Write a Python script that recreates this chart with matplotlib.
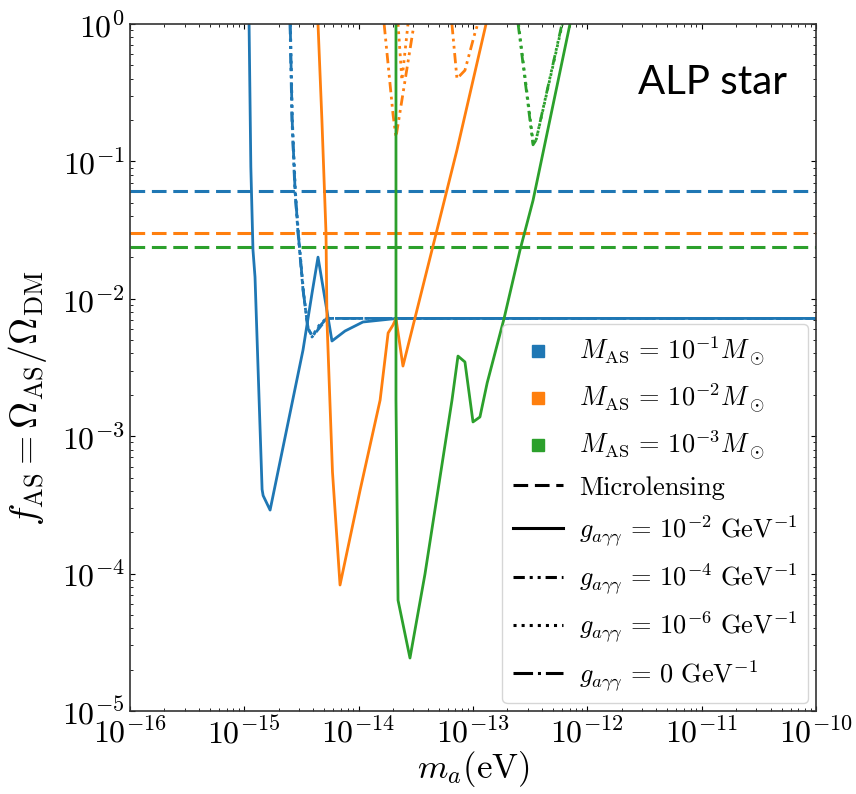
import matplotlib
matplotlib.use("Agg")
import matplotlib.pyplot as plt
from matplotlib.lines import Line2D
from matplotlib.ticker import LogLocator

plt.rcParams.update({
    "font.family": "serif",
    "font.serif": ["cmr10"],
    "mathtext.fontset": "cm",
    "axes.formatter.use_mathtext": True,
    "axes.unicode_minus": False,
})

C_BLUE, C_ORANGE, C_GREEN = "#1f77b4", "#ff7f0e", "#2ca02c"

# Microlensing bounds for each ALP-star mass
micro_limits = {"1e-1": 0.061, "1e-2": 0.030, "1e-3": 0.0238}

# M_AS = 1e-1 Msun
m1_g2_x = [1.10e-15, 1.14e-15, 1.19e-15, 1.24e-15, 1.43e-15, 1.46e-15, 1.68e-15,
           3.26e-15, 3.91e-15, 4.41e-15, 5.84e-15, 7.6e-15, 1.09e-14, 2.16e-14, 1e-10]
m1_g2_y = [1.0, 0.091, 0.0227, 0.0144, 4.1e-4, 3.7e-4, 2.9e-4,
           4.24e-3, 0.011, 0.0201, 4.93e-3, 5.83e-3, 6.78e-3, 7.2e-3, 7.2e-3]
m1_g4_x = [2.51e-15, 2.61e-15, 2.77e-15, 2.95e-15, 3.26e-15, 3.59e-15, 3.91e-15,
           4.58e-15, 5.28e-15, 1e-10]
m1_g4_y = [1.0, 0.2, 0.061, 0.030, 0.0116, 6.2e-3, 5.27e-3, 6.2e-3, 7.2e-3, 7.2e-3]
m1_g6_x = [2.53e-15, 2.63e-15, 2.80e-15, 2.98e-15, 3.30e-15, 3.62e-15, 3.95e-15,
           4.50e-15, 5.20e-15, 1e-10]
m1_g6_y = [1.0, 0.2, 0.060, 0.029, 0.011, 6.0e-3, 5.4e-3, 6.4e-3, 7.2e-3, 7.2e-3]
m1_g0_x = [2.52e-15, 2.62e-15, 2.78e-15, 2.96e-15, 3.28e-15, 3.60e-15, 3.93e-15,
           4.55e-15, 5.25e-15, 1e-10]
m1_g0_y = [1.0, 0.2, 0.061, 0.030, 0.0113, 6.1e-3, 5.3e-3, 6.3e-3, 7.2e-3, 7.2e-3]

# M_AS = 1e-2 Msun
m2_g2_x = [4.41e-15, 4.77e-15, 5.18e-15, 5.28e-15, 5.9e-15, 6.87e-15, 1.03e-14,
           1.54e-14, 1.81e-14, 2.0e-14, 2.12e-14, 2.44e-14, 4.38e-14, 7.24e-14, 1.3e-13]
m2_g2_y = [1.0, 0.2, 0.030, 7.0e-3, 5.5e-4, 8.26e-5, 4.06e-4,
           1.83e-3, 5.64e-3, 6.45e-3, 7.2e-3, 3.24e-3, 0.0227, 0.121, 1.0]
m2_g4_x = [1.67e-14, 2.0e-14, 2.12e-14, 2.39e-14, 2.99e-14]
m2_g4_y = [1.0, 0.218, 0.15, 0.28, 0.9]
m2_g6_x = [2.21e-14, 2.39e-14, 2.7e-14]
m2_g6_y = [1.0, 0.39, 1.0]
m2_g0_x = [6.54e-14, 7.24e-14, 8.5e-14, 1.04e-13, 1.1e-13]
m2_g0_y = [1.0, 0.40, 0.46, 0.86, 1.0]

# M_AS = 1e-3 Msun
m3_g2_x = [2.12e-14, 2.12e-14, 2.21e-14, 2.81e-14, 3.8e-14, 6.55e-14, 7.39e-14,
           8.5e-14, 1.0e-13, 1.15e-13, 1.33e-13, 1.87e-13, 2.58e-13, 3.35e-13, 7.05e-13]
m3_g2_y = [1.0, 1.83e-3, 6.4e-5, 2.43e-5, 9.9e-5, 1.83e-3, 3.83e-3,
           3.47e-3, 1.27e-3, 1.38e-3, 2.44e-3, 7.2e-3, 0.0227, 0.052, 1.0]
m3_g4_x = [2.48e-13, 3.35e-13, 3.56e-13, 6.0e-13]
m3_g4_y = [1.0, 0.132, 0.143, 1.0]
m3_g6_x = [2.50e-13, 3.37e-13, 3.58e-13, 6.05e-13]
m3_g6_y = [1.0, 0.134, 0.145, 1.0]

ls_g4 = (0, (3.7, 1.6, 1.0, 1.6, 1.0, 1.6))
ls_g6 = (0, (1.0, 1.65))
ls_g0 = (0, (6.4, 1.6, 1.0, 1.6))
dash_micro = (4.8, 2.2)

fig = plt.figure(figsize=(8.56, 7.94), dpi=100)
ax = fig.add_axes([130 / 856, 1 - 711 / 794, 686 / 856, 687 / 794])

lw = 2.0
for key, c in zip(["1e-1", "1e-2", "1e-3"], [C_BLUE, C_ORANGE, C_GREEN]):
    ax.axhline(micro_limits[key], color=c, ls="--", lw=2.2, dashes=dash_micro)

ax.plot(m1_g2_x, m1_g2_y, color=C_BLUE, lw=lw)
ax.plot(m1_g4_x, m1_g4_y, color=C_BLUE, lw=lw, ls=ls_g4)
ax.plot(m1_g6_x, m1_g6_y, color=C_BLUE, lw=lw, ls=ls_g6)
ax.plot(m1_g0_x, m1_g0_y, color=C_BLUE, lw=lw, ls=ls_g0)

ax.plot(m2_g2_x, m2_g2_y, color=C_ORANGE, lw=lw)
ax.plot(m2_g4_x, m2_g4_y, color=C_ORANGE, lw=lw, ls=ls_g4)
ax.plot(m2_g6_x, m2_g6_y, color=C_ORANGE, lw=lw, ls=ls_g6)
ax.plot(m2_g0_x, m2_g0_y, color=C_ORANGE, lw=lw, ls=ls_g4)

ax.plot(m3_g2_x, m3_g2_y, color=C_GREEN, lw=lw)
ax.plot(m3_g4_x, m3_g4_y, color=C_GREEN, lw=lw, ls=ls_g4)
ax.plot(m3_g6_x, m3_g6_y, color=C_GREEN, lw=lw, ls=ls_g6)

ax.set_xscale("log")
ax.set_yscale("log")
ax.set_xlim(1e-16, 1e-10)
ax.set_ylim(1e-5, 1)
ax.xaxis.set_major_locator(LogLocator(base=10, numticks=20))
ax.xaxis.set_minor_locator(LogLocator(base=10, subs=range(2, 10), numticks=20))
ax.yaxis.set_major_locator(LogLocator(base=10, numticks=20))
ax.yaxis.set_minor_locator(LogLocator(base=10, subs=range(2, 10), numticks=20))
ax.tick_params(which="both", direction="in", top=True, right=True, labelsize=23)
ax.tick_params(axis="x", pad=4)
for s in ax.spines.values():
    s.set_linewidth(1.2)
    s.set_color("#333333")

ax.set_xlabel(r"$m_a(\mathrm{eV})$", fontsize=25, labelpad=0)
ax.set_ylabel(r"$f_{\rm AS} = \Omega_{\rm AS}/\Omega_{\rm DM}$", fontsize=27)
ax.yaxis.set_label_coords(-0.118, 0.455)

ax.text(0.957, 0.915, "ALP star", transform=ax.transAxes, ha="right", va="center",
        fontsize=29, family="Lato")

handles = [
    Line2D([], [], ls="none", marker="s", ms=9, color=C_BLUE),
    Line2D([], [], ls="none", marker="s", ms=9, color=C_ORANGE),
    Line2D([], [], ls="none", marker="s", ms=9, color=C_GREEN),
    Line2D([], [], color="k", ls="--", lw=2.2, dashes=dash_micro),
    Line2D([], [], color="k", ls="-", lw=2.2),
    Line2D([], [], color="k", ls=ls_g4, lw=2.2),
    Line2D([], [], color="k", ls=ls_g6, lw=2.2),
    Line2D([], [], color="k", ls=ls_g0, lw=2.2),
]
labels = [
    r"$M_{\rm AS} \,=\, 10^{-1} M_\odot$",
    r"$M_{\rm AS} \,=\, 10^{-2} M_\odot$",
    r"$M_{\rm AS} \,=\, 10^{-3} M_\odot$",
    "Microlensing",
    r"$g_{a\gamma\gamma} \,=\, 10^{-2}~\mathrm{GeV}^{-1}$",
    r"$g_{a\gamma\gamma} \,=\, 10^{-4}~\mathrm{GeV}^{-1}$",
    r"$g_{a\gamma\gamma} \,=\, 10^{-6}~\mathrm{GeV}^{-1}$",
    r"$g_{a\gamma\gamma} \,=\, 0~\mathrm{GeV}^{-1}$",
]
ax.legend(handles, labels, loc="lower right", fontsize=19, borderaxespad=0.3,
          handlelength=1.9, handletextpad=0.6, labelspacing=0.52)

fig.savefig("out.png", dpi=100)
